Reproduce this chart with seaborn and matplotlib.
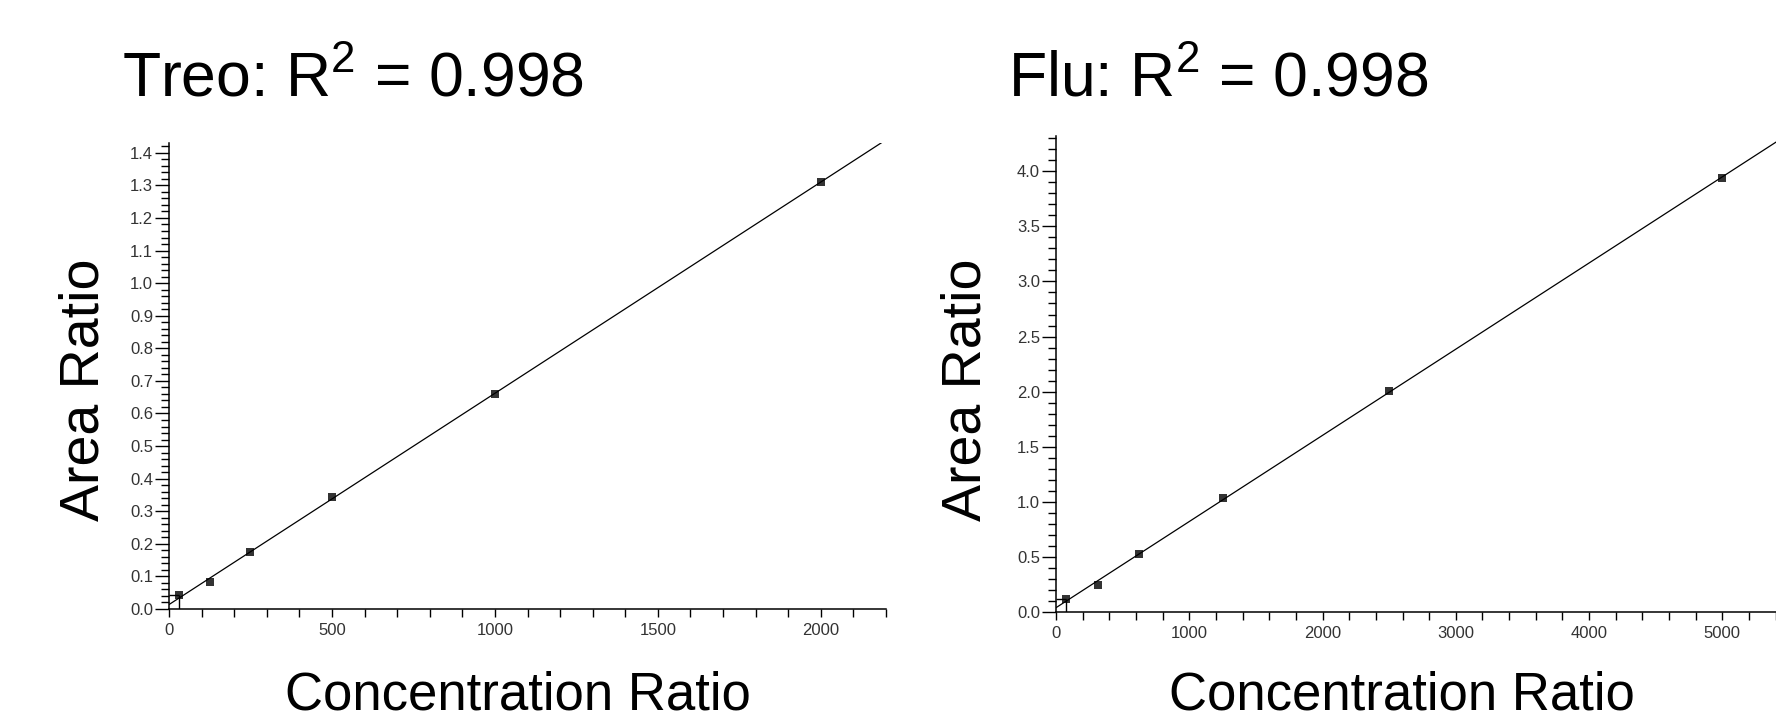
import matplotlib
matplotlib.use("Agg")
import matplotlib.pyplot as plt
from matplotlib.ticker import MultipleLocator
import numpy as np
import pandas as pd
import seaborn as sns

# calibration data
treo_conc = [31.25, 125, 250, 500, 1000, 2000]
treo_area = [0.043, 0.083, 0.175, 0.343, 0.659, 1.311]
flu_conc = [78.125, 312.5, 625, 1250, 2500, 5000]
flu_area = [0.118, 0.245, 0.525, 1.034, 2.01, 3.94]

titles = ["Treo: R$\\mathregular{^2}$ = 0.998", "Flu: R$\\mathregular{^2}$ = 0.998"]

sns.set_style("ticks")
plt.rcParams['font.family'] = ['Liberation Sans', 'DejaVu Sans']
plt.rcParams['mathtext.fontset'] = 'custom'
plt.rcParams['mathtext.rm'] = 'Liberation Sans'
plt.rcParams['text.color'] = 'black'
plt.rcParams['axes.labelcolor'] = 'black'

W, H = 1776, 727
fig = plt.figure(figsize=(W / 100, H / 100), dpi=100)

def px_axes(x0, x1, ytop, ybot):
    return fig.add_axes([x0 / W, (H - ybot) / H, (x1 - x0) / W, (ybot - ytop) / H])

ax1 = px_axes(169, 886, 143, 609)
ax2 = px_axes(1056, 1789, 136, 612)

panels = [
    (ax1, treo_conc, treo_area, (0, 2200), (0, 1.43), 500, 100, 0.1, 0.02),
    (ax2, flu_conc, flu_area, (0, 5500), (0, 4.32), 1000, 200, 0.5, 0.1),
]

for ax, xs, ys, xl, yl, xmaj, xmin, ymaj, ymin in panels:
    df = pd.DataFrame({"conc": xs, "area": ys})
    ax.set_xlim(*xl)
    ax.set_ylim(*yl)
    sns.regplot(data=df, x="conc", y="area", ax=ax, ci=None, truncate=False,
                marker="s", color="black",
                scatter_kws={"s": 40, "linewidths": 0, "zorder": 3},
                line_kws={"lw": 0.9, "color": "black"})
    # lowest standard marker lines
    ax.vlines(xs[0], 0, ys[0], color="black", lw=1)
    ax.hlines(ys[0], 0, xs[0], color="black", lw=1)
    ax.set_xlim(*xl)
    ax.set_ylim(*yl)
    ax.xaxis.set_major_locator(MultipleLocator(xmaj))
    ax.xaxis.set_minor_locator(MultipleLocator(xmin))
    ax.yaxis.set_major_locator(MultipleLocator(ymaj))
    ax.yaxis.set_minor_locator(MultipleLocator(ymin))
    ax.yaxis.set_major_formatter(matplotlib.ticker.FormatStrFormatter('%.1f'))
    sns.despine(ax=ax)
    for s in ["left", "bottom"]:
        ax.spines[s].set_linewidth(1.1)
        ax.spines[s].set_color("black")
    ax.tick_params(axis="y", which="major", length=10, width=1, color="black",
                   labelsize=12, labelcolor="#333333", pad=1.5, direction="out")
    ax.tick_params(axis="y", which="minor", length=5.8, width=1, color="black", direction="out")
    ax.tick_params(axis="x", which="both", length=6, width=1, color="black",
                   labelsize=12, labelcolor="#333333", pad=4, direction="out")
    ax.set_xlabel("Concentration Ratio", fontsize=38, color="black")
    ax.set_ylabel("Area Ratio", fontsize=40, color="black")
    ax.patch.set_alpha(0)

ax1.xaxis.set_label_coords(0.487, -0.131)
ax1.yaxis.set_label_coords(-0.082, 0.47)
ax2.xaxis.set_label_coords(0.472, -0.122)
ax2.yaxis.set_label_coords(-0.086, 0.466)

fig.text(122 / W, (H - 96) / H, titles[0], fontsize=45, va="baseline", ha="left", color="black")
fig.text(1008 / W, (H - 96) / H, titles[1], fontsize=45, va="baseline", ha="left", color="black")

fig.savefig("out.png", dpi=100)
